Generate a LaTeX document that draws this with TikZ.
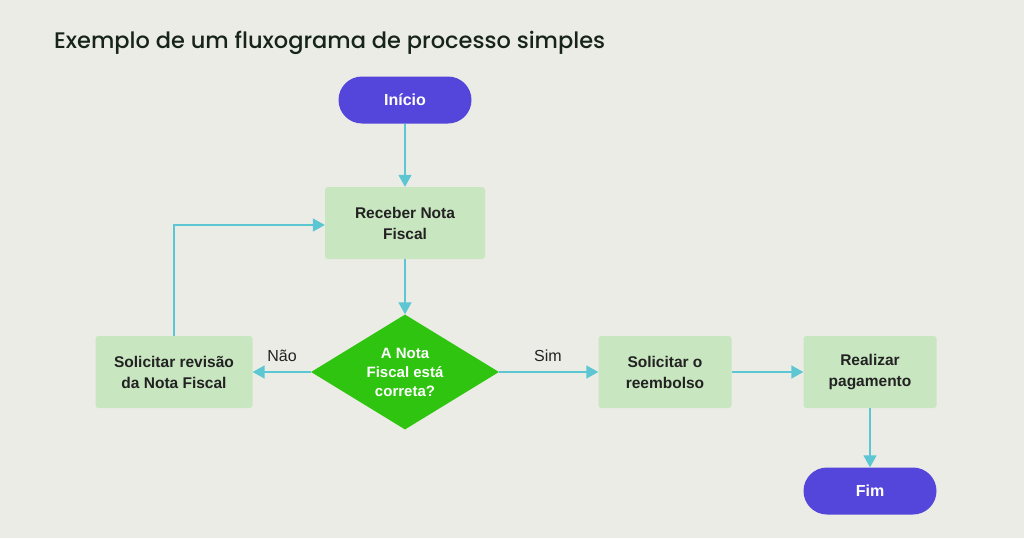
\documentclass[tikz,border=0pt]{standalone}
\usepackage{fontspec}
\setmainfont{Liberation Sans}
\newfontfamily\titlefont{Poppins Medium}
\usetikzlibrary{shapes.geometric,arrows.meta}
\definecolor{bgc}{HTML}{ECECE6}
\definecolor{term}{HTML}{5546DB}
\definecolor{boxc}{HTML}{C8E6C0}
\definecolor{dia}{HTML}{2EC410}
\definecolor{arr}{HTML}{5CC6D2}
\definecolor{txt}{HTML}{222222}
\definecolor{ttl}{HTML}{16241A}
\tikzset{
  x=1pt,y=-1pt,
  term/.style={draw=none,fill=term,rounded corners=23.5pt,minimum width=133pt,minimum height=47pt,text=white,font=\bfseries\fontsize{16}{19}\selectfont},
  proc/.style={draw=none,fill=boxc,rounded corners=3pt,minimum height=72pt,text=txt,align=center,font=\bfseries\fontsize{15.5}{21}\selectfont},
  dec/.style={diamond,draw=none,fill=dia,minimum width=188pt,minimum height=115pt,inner sep=0pt},
  dectext/.style={text=white,align=center,font=\bfseries\fontsize{15}{19}\selectfont},
  flow/.style={draw=arr,line width=1.6pt,-{Triangle[width=13pt,length=12pt]}},
  lbl/.style={text=txt,font=\fontsize{16}{19}\selectfont}
}
\begin{document}
\begin{tikzpicture}
\fill[bgc] (0,0) rectangle (1024,538);
\useasboundingbox (0,0) rectangle (1024,538);
\node[anchor=base west,text=ttl,inner sep=0pt,font=\titlefont\fontsize{22.5}{26}\selectfont] (title) at (54,48) {Exemplo de um fluxograma de processo simples};
\node[term] (ini) at (405,100) {Início};
\node[proc,minimum width=160pt] (rec) at (405,223) {Receber Nota\\Fiscal};
\node[dec] (q) at (405,372) {};
\node[dectext] (qt) at (q.center) {A Nota\\Fiscal está\\correta?};
\node[proc,minimum width=157pt] (rev) at (174,372) {Solicitar revisão\\da Nota Fiscal};
\node[proc,minimum width=133pt] (reemb) at (665,372) {Solicitar o\\reembolso};
\node[proc,minimum width=133pt] (pag) at (870,372) {Realizar\\pagamento};
\node[term] (fim) at (870,491) {Fim};
\draw[flow] (ini) -- (rec);
\draw[flow] (rec) -- (q);
\draw[flow] (q.west) -- (rev.east);
\draw[flow] (q.east) -- (reemb.west);
\draw[flow] (reemb) -- (pag);
\draw[flow] (pag) -- (fim);
\coordinate (corner) at (174,225);
\draw[flow] (rev.north -| corner) -- (corner) -- (rec.west |- corner);
\node[lbl] (nao) at (282,356) {Não};
\node[lbl] (sim) at (548,356) {Sim};
\end{tikzpicture}
\end{document}
